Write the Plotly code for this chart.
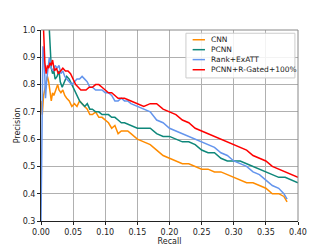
import plotly.graph_objects as go

cnn_r = [0.000, 0.002, 0.004, 0.006, 0.008, 0.010, 0.012, 0.014, 0.016, 0.018, 0.020, 0.023, 0.026, 0.028, 0.031, 0.034, 0.037, 0.040, 0.044, 0.048, 0.052, 0.056, 0.060, 0.064, 0.068, 0.072, 0.076, 0.080, 0.085, 0.090, 0.095, 0.100, 0.105, 0.110, 0.115, 0.120, 0.125, 0.130, 0.135, 0.140, 0.145, 0.150, 0.160, 0.170, 0.180, 0.190, 0.200, 0.210, 0.220, 0.230, 0.240, 0.250, 0.260, 0.270, 0.280, 0.290, 0.300, 0.310, 0.320, 0.330, 0.340, 0.350, 0.360, 0.370, 0.378, 0.383]
cnn_p = [0.74, 0.69, 0.76, 0.78, 0.80, 0.83, 0.81, 0.78, 0.74, 0.77, 0.76, 0.78, 0.80, 0.78, 0.77, 0.78, 0.76, 0.75, 0.74, 0.72, 0.73, 0.72, 0.74, 0.73, 0.72, 0.71, 0.69, 0.69, 0.70, 0.68, 0.68, 0.67, 0.66, 0.64, 0.65, 0.62, 0.63, 0.63, 0.63, 0.62, 0.61, 0.60, 0.59, 0.58, 0.56, 0.54, 0.53, 0.52, 0.51, 0.51, 0.50, 0.49, 0.49, 0.48, 0.48, 0.47, 0.46, 0.45, 0.44, 0.44, 0.43, 0.42, 0.40, 0.40, 0.39, 0.37]

pcnn_r = [0.013, 0.014, 0.015, 0.016, 0.018, 0.020, 0.022, 0.025, 0.028, 0.030, 0.033, 0.036, 0.040, 0.044, 0.048, 0.052, 0.056, 0.060, 0.064, 0.068, 0.072, 0.076, 0.080, 0.085, 0.090, 0.095, 0.100, 0.105, 0.110, 0.115, 0.120, 0.125, 0.130, 0.140, 0.150, 0.160, 0.170, 0.180, 0.190, 0.200, 0.210, 0.220, 0.230, 0.240, 0.250, 0.260, 0.270, 0.280, 0.290, 0.300, 0.310, 0.320, 0.330, 0.340, 0.350, 0.360, 0.370, 0.380, 0.390, 0.400]
pcnn_p = [1.00, 0.93, 0.89, 0.86, 0.84, 0.85, 0.82, 0.83, 0.85, 0.81, 0.79, 0.81, 0.83, 0.82, 0.80, 0.78, 0.76, 0.74, 0.73, 0.72, 0.73, 0.71, 0.71, 0.70, 0.70, 0.69, 0.69, 0.69, 0.68, 0.68, 0.67, 0.66, 0.66, 0.65, 0.64, 0.64, 0.64, 0.62, 0.61, 0.61, 0.60, 0.59, 0.59, 0.58, 0.56, 0.55, 0.55, 0.53, 0.52, 0.52, 0.52, 0.51, 0.50, 0.49, 0.48, 0.47, 0.46, 0.46, 0.45, 0.44]

rank_r = [0.000, 0.001, 0.002, 0.003, 0.005, 0.007, 0.009, 0.011, 0.013, 0.016, 0.019, 0.022, 0.025, 0.028, 0.031, 0.034, 0.037, 0.040, 0.044, 0.048, 0.052, 0.056, 0.060, 0.064, 0.068, 0.072, 0.076, 0.080, 0.085, 0.090, 0.095, 0.100, 0.105, 0.110, 0.115, 0.120, 0.125, 0.130, 0.135, 0.140, 0.150, 0.160, 0.170, 0.180, 0.190, 0.200, 0.210, 0.220, 0.230, 0.240, 0.250, 0.260, 0.270, 0.280, 0.290, 0.300, 0.310, 0.320, 0.330, 0.340, 0.350, 0.360, 0.370, 0.378, 0.383]
rank_p = [0.30, 0.60, 0.85, 0.94, 0.90, 0.75, 0.82, 0.86, 0.90, 0.86, 0.85, 0.87, 0.86, 0.87, 0.84, 0.85, 0.83, 0.82, 0.81, 0.80, 0.81, 0.82, 0.82, 0.83, 0.82, 0.81, 0.79, 0.79, 0.78, 0.78, 0.78, 0.77, 0.77, 0.76, 0.74, 0.74, 0.75, 0.74, 0.74, 0.73, 0.72, 0.71, 0.70, 0.67, 0.66, 0.64, 0.63, 0.62, 0.61, 0.60, 0.59, 0.58, 0.57, 0.55, 0.54, 0.52, 0.51, 0.50, 0.48, 0.47, 0.45, 0.43, 0.42, 0.40, 0.38]

gated_r = [0.004, 0.005, 0.006, 0.008, 0.010, 0.012, 0.014, 0.016, 0.018, 0.021, 0.024, 0.027, 0.030, 0.034, 0.038, 0.042, 0.046, 0.050, 0.054, 0.058, 0.062, 0.066, 0.070, 0.075, 0.080, 0.085, 0.090, 0.095, 0.100, 0.105, 0.110, 0.115, 0.120, 0.125, 0.130, 0.140, 0.150, 0.160, 0.170, 0.180, 0.190, 0.200, 0.210, 0.220, 0.230, 0.240, 0.250, 0.260, 0.270, 0.280, 0.290, 0.300, 0.310, 0.320, 0.330, 0.340, 0.350, 0.360, 0.370, 0.380, 0.390, 0.400]
gated_p = [1.00, 0.95, 0.88, 0.84, 0.87, 0.86, 0.88, 0.87, 0.89, 0.85, 0.86, 0.84, 0.85, 0.86, 0.85, 0.85, 0.84, 0.82, 0.80, 0.79, 0.78, 0.78, 0.78, 0.79, 0.79, 0.80, 0.80, 0.79, 0.78, 0.77, 0.77, 0.76, 0.75, 0.75, 0.75, 0.74, 0.73, 0.72, 0.73, 0.73, 0.71, 0.70, 0.69, 0.67, 0.66, 0.64, 0.63, 0.62, 0.61, 0.60, 0.59, 0.58, 0.57, 0.56, 0.54, 0.53, 0.52, 0.50, 0.49, 0.48, 0.47, 0.46]

names = ["CNN", "PCNN", "Rank+ExATT", "PCNN+R-Gated+100%"]
colors = ["#ff8c00", "#0e877a", "#6495ed", "#ff0000"]
recalls = [cnn_r, pcnn_r, rank_r, gated_r]
precisions = [cnn_p, pcnn_p, rank_p, gated_p]

x_ticks = [0.0, 0.05, 0.10, 0.15, 0.20, 0.25, 0.30, 0.35, 0.40]
x_tick_text = ["0.00", "0.05", "0.10", "0.15", "0.20", "0.25", "0.30", "0.35", "0.40"]
y_ticks = [0.3, 0.4, 0.5, 0.6, 0.7, 0.8, 0.9, 1.0]

fig = go.Figure()
for name, r, p, c in zip(names, recalls, precisions, colors):
    fig.add_trace(go.Scatter(x=r, y=p, mode="lines", name=name,
                             line=dict(color=c, width=1.5), showlegend=False))

fig.update_layout(
    width=323, height=241,
    margin=dict(l=33, r=33, t=22, b=28),
    paper_bgcolor="white", plot_bgcolor="white",
    font=dict(family="DejaVu Sans", size=8, color="#222"),
    xaxis=dict(range=[0, 0.4], tickvals=x_ticks, ticktext=x_tick_text, automargin=False,
               showgrid=True, gridcolor="#b0b0b0", gridwidth=1,
               showline=True, linecolor="#222", linewidth=1, mirror=False,
               ticks="outside", ticklen=3, tickcolor="#222",
               title=dict(text="Recall", standoff=0, font=dict(size=8)), zeroline=False),
    yaxis=dict(range=[0.3, 1.0], tickvals=y_ticks, tickformat=".1f", automargin=False,
               showgrid=True, gridcolor="#b0b0b0", gridwidth=1,
               showline=True, linecolor="#222", linewidth=1, mirror=False,
               ticks="outside", ticklen=3, tickcolor="#222",
               title=dict(text="Precision", standoff=0, font=dict(size=8)), zeroline=False),
)
fig.add_shape(type="line", xref="paper", yref="paper", x0=0, x1=1, y0=1, y1=1,
              line=dict(color="#888", width=1))
fig.add_shape(type="line", xref="paper", yref="paper", x0=1, x1=1, y0=0, y1=1,
              line=dict(color="#888", width=1))

# manual compact legend (matplotlib style)
fig.add_shape(type="rect", xref="paper", yref="paper", x0=0.564, x1=0.988, y0=0.749, y1=0.983,
              line=dict(color="#cccccc", width=1), fillcolor="rgba(255,255,255,0.85)")
entry_y = [0.949, 0.897, 0.845, 0.792]
for name, c, yy in zip(names, colors, entry_y):
    fig.add_shape(type="line", xref="paper", yref="paper", x0=0.590, x1=0.638, y0=yy, y1=yy,
                  line=dict(color=c, width=1.5))
    fig.add_annotation(xref="paper", yref="paper", x=0.652, y=yy, text=name, showarrow=False,
                       xanchor="left", yanchor="middle",
                       font=dict(family="DejaVu Sans", size=7.5, color="#222"))
fig.write_html("out.html")
